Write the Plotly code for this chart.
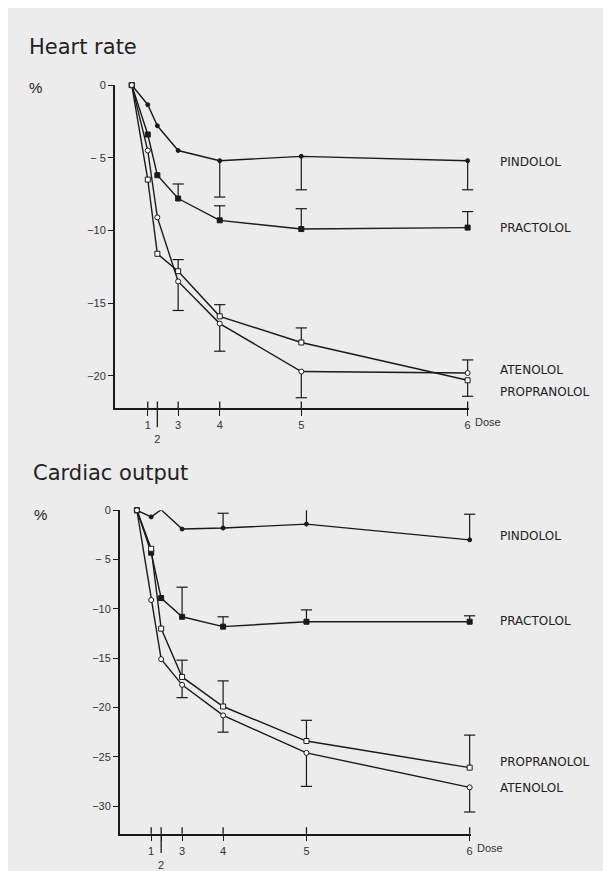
import plotly.graph_objects as go

# ---------------- data ----------------
# dose positions on the (cumulative) dose axis; index 0 = baseline
dose_pos_hr = [0, 1.0, 1.6, 2.9, 5.5, 10.6, 21.0]
dose_pos_co = [0, 0.9, 1.53, 2.85, 5.44, 10.7, 21.0]
dose_labels = ["1", "<br>2", "3", "4", "5", "6"]

# Heart rate (% change)
hr_pindolol = [0, -1.35, -2.8, -4.5, -5.2, -4.9, -5.2]
hr_practolol = [0, -3.4, -6.2, -7.8, -9.3, -9.9, -9.8]
hr_propranolol = [0, -6.5, -11.6, -12.8, -15.9, -17.7, -20.3]
hr_atenolol = [0, -4.5, -9.1, -13.5, -16.4, -19.7, -19.8]
# error bars: (dose index, signed error length)
hr_pindolol_err = [(4, -2.5), (5, -2.3), (6, -2.0)]
hr_practolol_err = [(3, 1.0), (4, 1.0), (5, 1.4), (6, 1.1)]
hr_propranolol_err = [(3, 0.8), (4, 0.8), (5, 1.0), (6, -1.1)]
hr_atenolol_err = [(3, -2.0), (4, -1.9), (5, -1.8), (6, 0.9)]

# Cardiac output (% change)
co_pindolol = [0, -0.67, 0.05, -1.9, -1.8, -1.4, -3.0]
co_practolol = [0, -4.3, -8.9, -10.8, -11.8, -11.3, -11.3]
co_propranolol = [0, -3.9, -12.0, -16.9, -19.9, -23.4, -26.1]
co_atenolol = [0, -9.1, -15.1, -17.7, -20.8, -24.6, -28.1]
co_pindolol_err = [(4, 1.5), (5, 2.5), (6, 2.6)]
co_practolol_err = [(3, 3.0), (4, 1.0), (5, 1.2), (6, 0.6)]
co_propranolol_err = [(3, 1.7), (4, 2.6), (5, 2.1), (6, 3.3)]
co_atenolol_err = [(3, -1.3), (4, -1.7), (5, -3.4), (6, -2.5)]

hr_yticks = [0, -5, -10, -15, -20]
hr_yticktext = ["0", "− 5", "−10", "−15", "−20"]
co_yticks = [0, -5, -10, -15, -20, -25, -30]
co_yticktext = ["0", "− 5", "−10", "−15", "−20", "−25", "−30"]

hr_labels = [("PINDOLOL", -5.3), ("PRACTOLOL", -9.8), ("ATENOLOL", -19.6), ("PROPRANOLOL", -21.1)]
co_labels = [("PINDOLOL", -2.6), ("PRACTOLOL", -11.2), ("PROPRANOLOL", -25.5), ("ATENOLOL", -28.2)]

# ---------------- styling ----------------
OFF = 8                      # page body margin
W, H = 611 - OFF, 871 - OFF
BG = "#ececec"
INK = "#1a1a1a"
FONT = "Liberation Sans, Arial, sans-serif"
WFONT = "DejaVu Sans, sans-serif"


def px(x):
    return (x - OFF) / W


def py(y):
    return 1 - (y - OFF) / H


styles = {
    "pindolol": dict(symbol="circle", size=4, color=INK, line=dict(color=INK, width=1)),
    "practolol": dict(symbol="square", size=5, color=INK, line=dict(color=INK, width=1)),
    "propranolol": dict(symbol="square", size=5, color="white", line=dict(color=INK, width=1)),
    "atenolol": dict(symbol="circle", size=5, color="white", line=dict(color=INK, width=1)),
}

fig = go.Figure()


def add_panel(xs, series, xa, ya):
    for name, ys, errs in series:
        sx, sy, cx, cy = [], [], [], []
        for idx, e in errs:
            sx += [xs[idx], xs[idx], None]
            sy += [ys[idx], ys[idx] + e, None]
            cx.append(xs[idx])
            cy.append(ys[idx] + e)
        fig.add_trace(go.Scatter(x=sx, y=sy, mode="lines", xaxis=xa, yaxis=ya,
                                 line=dict(color=INK, width=1.2), showlegend=False,
                                 hoverinfo="skip", cliponaxis=False))
        fig.add_trace(go.Scatter(x=cx, y=cy, mode="markers", xaxis=xa, yaxis=ya,
                                 marker=dict(symbol="line-ew-open", size=8, color=INK,
                                             line=dict(color=INK, width=1.2)),
                                 showlegend=False, hoverinfo="skip", cliponaxis=False))
        fig.add_trace(go.Scatter(x=xs, y=ys, mode="lines+markers", name=name,
                                 xaxis=xa, yaxis=ya,
                                 line=dict(color=INK, width=1.4),
                                 marker=styles[name], showlegend=False,
                                 cliponaxis=False))


add_panel(dose_pos_hr, [
    ("pindolol", hr_pindolol, hr_pindolol_err),
    ("practolol", hr_practolol, hr_practolol_err),
    ("propranolol", hr_propranolol, hr_propranolol_err),
    ("atenolol", hr_atenolol, hr_atenolol_err),
], "x", "y")

add_panel(dose_pos_co, [
    ("pindolol", co_pindolol, co_pindolol_err),
    ("practolol", co_practolol, co_practolol_err),
    ("propranolol", co_propranolol, co_propranolol_err),
    ("atenolol", co_atenolol, co_atenolol_err),
], "x2", "y2")

tickfont = dict(family=FONT, size=11, color="#333")

xcommon = dict(showgrid=False, zeroline=False, showline=True, linecolor=INK, linewidth=1.5,
               ticks="outside", ticklen=6, tickwidth=1.3, tickcolor=INK,
               tickfont=tickfont, ticktext=dose_labels)
ycommon = dict(showgrid=False, zeroline=False, showline=True, linecolor=INK, linewidth=1.5,
               ticks="outside", ticklen=5, tickwidth=1.2, tickcolor=INK,
               tickfont=tickfont)

fig.update_layout(
    width=W, height=H,
    margin=dict(l=0, r=0, t=0, b=0),
    paper_bgcolor=BG, plot_bgcolor=BG,
    font=dict(family=FONT, color=INK),
    xaxis=dict(domain=[px(115), px(470)], range=[-1.06, 21.1], anchor="y",
               tickvals=dose_pos_hr[1:], **xcommon),
    yaxis=dict(domain=[py(407), py(80)], range=[-22.2, 0], anchor="x",
               tickvals=hr_yticks, ticktext=hr_yticktext, **ycommon),
    xaxis2=dict(domain=[px(120), px(472)], range=[-1.08, 21.1], anchor="y2",
                tickvals=dose_pos_co[1:], **xcommon),
    yaxis2=dict(domain=[py(838.3), py(510.7)], range=[-32.8, 0], anchor="x2",
                tickvals=co_yticks, ticktext=co_yticktext, **ycommon),
)

shapes = []
for xs, xr, yr in [(dose_pos_hr, "x", "y domain"), (dose_pos_co, "x2", "y2 domain")]:
    for v in xs[1:]:
        shapes.append(dict(type="line", xref=xr, yref=yr, x0=v, x1=v, y0=0, y1=0.02,
                           line=dict(color=INK, width=1.3)))
    shapes.append(dict(type="line", xref=xr, yref=yr, x0=xs[2], x1=xs[2], y0=0, y1=-0.06,
                       line=dict(color=INK, width=1.3)))
fig.update_layout(shapes=shapes)

ann = []
ann.append(dict(text="Heart rate", xref="paper", yref="paper", x=px(27), y=py(41.5),
                xanchor="left", yanchor="middle", showarrow=False,
                font=dict(family=WFONT, size=21, color="#222")))
ann.append(dict(text="%", xref="paper", yref="paper", x=px(27), y=py(82),
                xanchor="left", yanchor="middle", showarrow=False,
                font=dict(family=FONT, size=15, color="#222")))
ann.append(dict(text="Cardiac output", xref="paper", yref="paper", x=px(31), y=py(473),
                xanchor="left", yanchor="middle", showarrow=False,
                font=dict(family=WFONT, size=21, color="#222")))
ann.append(dict(text="%", xref="paper", yref="paper", x=px(32), y=py(515),
                xanchor="left", yanchor="middle", showarrow=False,
                font=dict(family=FONT, size=15, color="#222")))
ann.append(dict(text="Dose", xref="x", yref="y domain", x=dose_pos_hr[-1], y=0,
                xanchor="left", yanchor="top", xshift=5, yshift=-6, showarrow=False,
                font=dict(family=FONT, size=11, color="#333")))
ann.append(dict(text="Dose", xref="x2", yref="y2 domain", x=dose_pos_co[-1], y=0,
                xanchor="left", yanchor="top", xshift=5, yshift=-6, showarrow=False,
                font=dict(family=FONT, size=11, color="#333")))
for txt, yv in hr_labels:
    ann.append(dict(text=txt, xref="paper", yref="y", x=px(499), y=yv, xanchor="left",
                    yanchor="middle", showarrow=False,
                    font=dict(family=WFONT, size=12, color="#222")))
for txt, yv in co_labels:
    ann.append(dict(text=txt, xref="paper", yref="y2", x=px(499), y=yv, xanchor="left",
                    yanchor="middle", showarrow=False,
                    font=dict(family=WFONT, size=12, color="#222")))
fig.update_layout(annotations=ann)

fig.write_html("out.html")
